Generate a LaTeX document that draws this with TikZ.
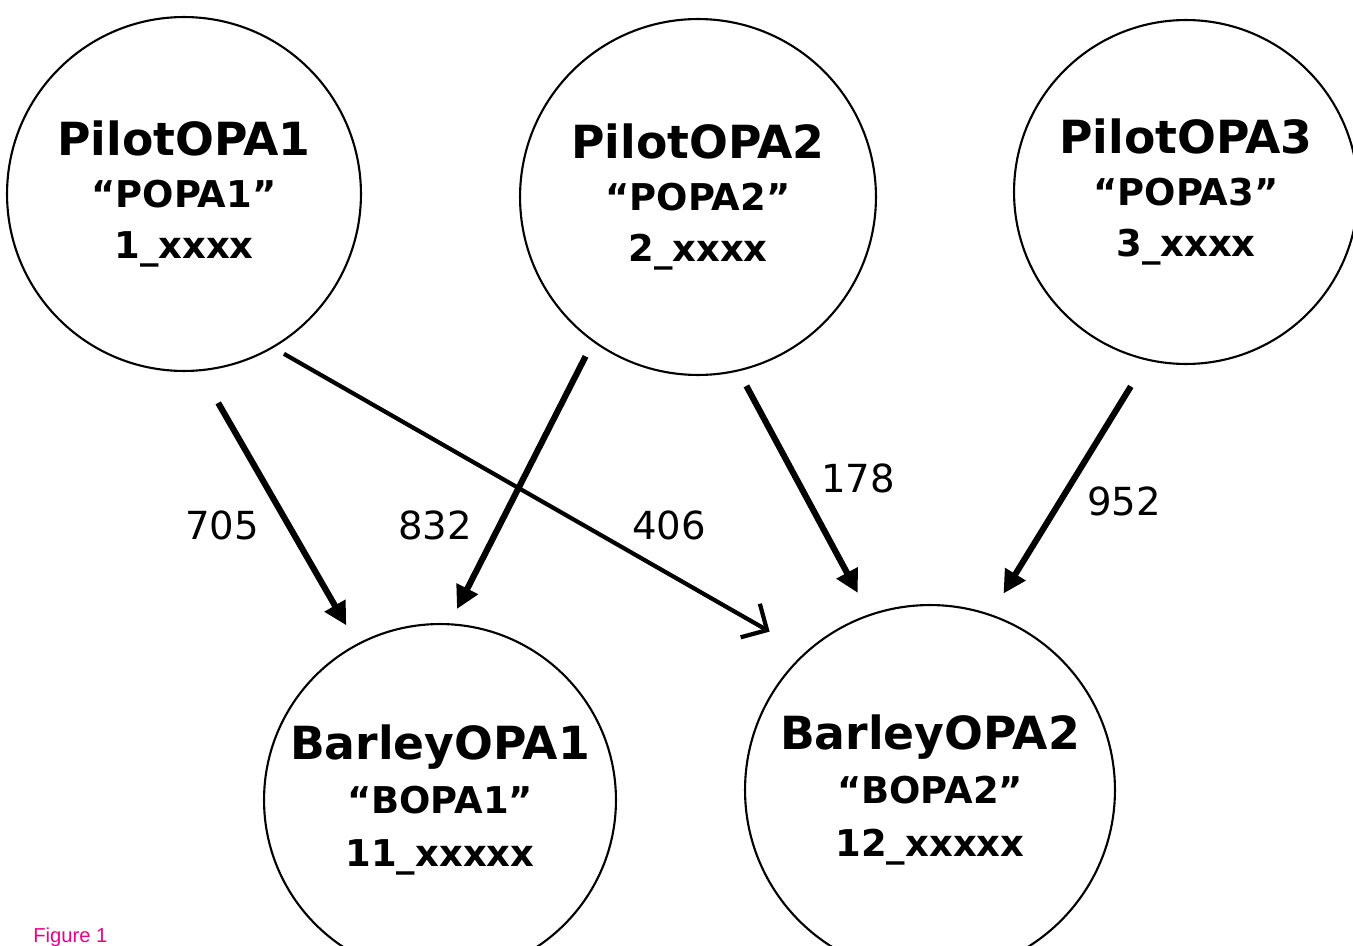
\documentclass[tikz,border=0pt]{standalone}
\usepackage{fontspec}
\setmainfont{DejaVu Sans}
\newfontfamily\figfont{Liberation Sans}
\usetikzlibrary{arrows.meta}
\tikzset{
  opa/.style={draw, circle, line width=1.2pt, inner sep=0pt, outer sep=0pt, align=center,
    font=\bfseries\fontsize{21}{29.5}\selectfont},
  barley/.style={opa, font=\bfseries\fontsize{21}{30.5}\selectfont},
  flow/.style={line width=3.5pt, -{Triangle[length=13pt,width=13pt]}},
  thinflow/.style={line width=2.4pt, -{Straight Barb[length=11pt,width=22pt]}},
  count/.style={font=\fontsize{22}{26}\selectfont, inner sep=0pt}
}
\newcommand{\opaname}[1]{{\fontsize{26}{28}\selectfont #1}}

\begin{document}
\begin{tikzpicture}[x=0.02cm, y=-0.02cm]
		%%%%% START %%%%%
		\useasboundingbox (0,0) rectangle (1353,946);
		
		\node[opa, minimum size=7.08cm] (p1) at (184,194) {\opaname{PilotOPA1}\\“POPA1”\\1\_xxxx};
		\node[opa, minimum size=7.12cm] (p2) at (698,197) {\opaname{PilotOPA2}\\“POPA2”\\2\_xxxx};
		\node[opa, minimum size=6.88cm] (p3) at (1186,192) {\opaname{PilotOPA3}\\“POPA3”\\3\_xxxx};
		
		\node[barley, minimum size=7.04cm] (b1) at (440,800) {\opaname{BarleyOPA1}\\“BOPA1”\\11\_xxxxx};
		\node[barley, minimum size=7.4cm] (b2) at (930,790) {\opaname{BarleyOPA2}\\“BOPA2”\\12\_xxxxx};
		
		\draw[flow, shorten <=0.752cm, shorten >=0.445cm] (p1.-85.4) -- (b1.118.5);
		\draw[flow, shorten <=0.345cm, shorten >=0.342cm] (p2.-126.2) -- (b1.87);
		\draw[thinflow, shorten <=0.265cm, shorten >=0.844cm] (p1.-60.7) -- (b2.132.7);
		\draw[flow, shorten <=0.352cm, shorten >=0.504cm] (p2.-77.1) -- (b2.109.1);
		\draw[flow, shorten <=0.63cm, shorten >=0.506cm] (p3.-103.6) -- (b2.71.5);
		
		\node[count] (n705) at (222,525) {705};
		\node[count] (n832) at (435,525) {832};
		\node[count] (n406) at (669,525) {406};
		\node[count] (n178) at (858,478) {178};
		\node[count] (n952) at (1124,501) {952};
		
		\node[anchor=base west, inner sep=0pt, text=magenta, font=\figfont\fontsize{11.5}{13}\selectfont] (fig) at (33,942) {Figure 1};
		%%%%% END %%%%%
\end{tikzpicture}
\end{document}
